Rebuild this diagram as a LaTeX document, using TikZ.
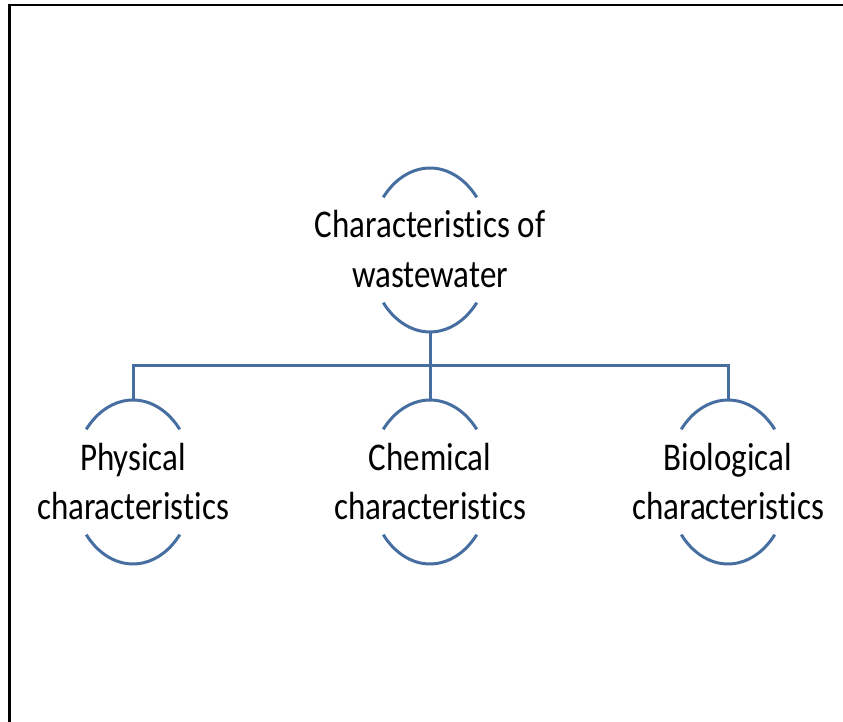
\documentclass[tikz,border=0pt]{standalone}
\usepackage{fontspec}
\setmainfont[Ligatures=NoCommon]{Carlito}
\usepackage{graphicx}
\definecolor{linkblue}{RGB}{70,110,160}
\newcommand{\boxtext}[1]{\raisebox{-3pt}[\height][\depth]{\scalebox{1}[1.19]{\fontsize{33}{42}\selectfont\begin{tabular}{@{}c@{}}#1\end{tabular}}}}
\begin{document}
\begin{tikzpicture}[x=1pt,y=1pt,
  topic/.style={rectangle,inner sep=0pt,minimum width=122pt,minimum height=164pt,text=black},
  bracket/.style={draw=linkblue,line width=3pt},
  link/.style={draw=linkblue,line width=3pt},
  frameline/.style={draw=black,line width=2.5pt}]
\useasboundingbox (0,0) rectangle (843,722);
\draw[frameline] (9.5,0) -- (9.5,717) -- (843,717);

\node[topic] (top) at (430,472) {\boxtext{Characteristics of\\wastewater}};
\node[topic] (phys) at (133,240) {\boxtext{Physical\\characteristics}};
\node[topic] (chem) at (430,240) {\boxtext{Chemical\\characteristics}};
\node[topic] (bio) at (728,240) {\boxtext{Biological\\characteristics}};

\foreach \n in {top,phys,chem,bio}{
  \draw[bracket] (\n.center) ++(40:61pt and 82pt) arc[start angle=40,end angle=140,x radius=61pt,y radius=82pt];
  \draw[bracket] (\n.center) ++(220:61pt and 82pt) arc[start angle=220,end angle=320,x radius=61pt,y radius=82pt];
}

\coordinate (bus) at (430,356);
\draw[link] (top.south) -- (bus);
\draw[link] (phys.north) -- (phys.north |- bus) -- (bio.north |- bus) -- (bio.north);
\draw[link] (bus) -- (chem.north);
\end{tikzpicture}
\end{document}
